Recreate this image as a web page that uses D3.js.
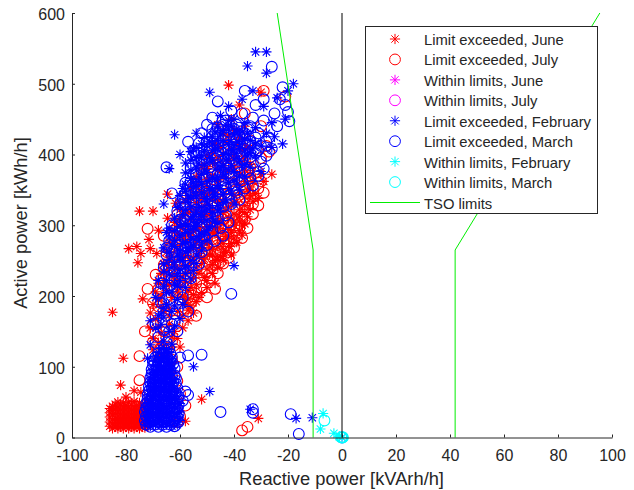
<!DOCTYPE html>
<html><head><meta charset="utf-8">
<script src="https://cdnjs.cloudflare.com/ajax/libs/d3/7.8.5/d3.min.js"></script>
<style>html,body{margin:0;background:#fff}svg{display:block}text{font-family:"Liberation Sans",Arial,sans-serif;fill:#262626}</style>
</head><body><svg id="c" width="634" height="490"></svg>
<script>
const xTicks=[-100,-80,-60,-40,-20,0,20,40,60,80,100];
const yTicks=[0,100,200,300,400,500,600];
const legendLabels=["Limit exceeded, June","Limit exceeded, July","Within limits, June","Within limits, July","Limit exceeded, February","Limit exceeded, March","Within limits, February","Within limits, March","TSO limits"];
const tsoLeft=[[-24,600],[-10.7,265],[-10.7,0]];
const tsoRight=[[41.9,0],[41.9,265],[95.5,600]];
const zeroLine=[[0,0],[0,600]];
const juneLow=[[-86,16],[-86,22],[-86,29],[-86,35],[-86,41],[-85,13],[-85,19],[-85,25],[-85,32],[-85,38],[-85,44],[-84,15],[-84,21],[-84,27],[-84,34],[-84,40],[-84,47],[-83,13],[-83,18],[-83,24],[-83,30],[-83,36],[-83,43],[-83,50],[-82,15],[-82,21],[-82,27],[-82,33],[-82,39],[-82,46],[-81,13],[-81,18],[-81,24],[-81,30],[-81,36],[-81,42],[-81,49],[-80,15],[-80,21],[-80,27],[-80,33],[-80,39],[-80,45],[-79,13],[-79,18],[-79,24],[-79,30],[-79,36],[-79,43],[-79,50],[-78,15],[-78,21],[-78,27],[-78,33],[-78,39],[-78,46],[-77,13],[-77,18],[-77,24],[-77,30],[-77,36],[-77,42],[-77,51],[-76,15],[-76,21],[-76,27],[-76,33],[-76,39],[-76,45],[-75,13],[-75,18],[-75,24],[-75,30],[-75,36],[-75,42],[-75,49],[-74,15],[-74,21],[-74,27],[-74,33],[-74,39],[-74,46],[-73,14],[-73,20],[-73,26],[-73,32],[-73,38],[-73,44],[-72,52],[-72,16],
[-82,74],[-77,66],[-74.5,64],[-80,57],[-58,23],[-52,54],[-31,27],[-81,112],[-68,113],[-68,134]];
const juneBody=[[-85,177],[-75,320],[-70,320],[-64.6,344],[-61.6,331],[-64.6,310],[-68,293],[-71.5,280],[-79,267],[-76,270],[-74.5,260],[-71,267],[-68.6,260],[-75.6,247],[-73.8,196],[-71,176],[-68,196],[-26,372],[-29,362],[-42,498],[-30,488],[-38,470],[-36,440],
[-71,155],[-69,168],[-67,148],[-66,178],[-64,160],[-62,150],[-70,140],[-66,130],[-63,142],
[-70,188],[-67,185],[-64,182],[-61,178],[-59,172],[-57,180],
[-69,206],[-67,200],[-65,208],[-63,198],[-61,206],[-59,200],[-57,196],[-55,202],
[-68,218],[-66,222],[-64,216],[-62,224],[-60,214],[-58,220],[-56,212],[-54,216],
[-67,232],[-65,236],[-63,230],[-61,238],[-59,228],[-57,234],[-55,226],[-53,232],[-51,226],
[-66,246],[-64,250],[-62,244],[-60,252],[-58,242],[-56,248],[-54,240],[-52,246],[-50,238],[-48,244],
[-65,262],[-63,256],[-61,266],[-59,258],[-57,264],[-55,254],[-53,260],[-51,252],[-49,258],[-47,250],[-45,256],
[-64,276],[-62,280],[-60,272],[-58,278],[-56,270],[-54,276],[-52,268],[-50,274],[-48,266],[-46,270],[-44,262],
[-63,292],[-61,288],[-59,296],[-57,286],[-55,292],[-53,284],[-51,290],[-49,282],[-47,288],[-45,278],[-43,284],[-41,274],
[-62,304],[-60,310],[-58,302],[-56,308],[-54,300],[-52,306],[-50,298],[-48,304],[-46,296],[-44,302],[-42,294],[-40,300],
[-60,322],[-58,316],[-56,324],[-54,318],[-52,326],[-50,314],[-48,322],[-46,312],[-44,318],[-42,310],[-40,316],[-38,306],
[-58,336],[-56,340],[-54,332],[-52,338],[-50,330],[-48,336],[-46,328],[-44,334],[-42,326],[-40,332],[-38,322],[-36,328],
[-56,352],[-54,356],[-52,348],[-50,354],[-48,346],[-46,352],[-44,344],[-42,350],[-40,342],[-38,346],[-36,340],
[-54,368],[-52,372],[-50,364],[-48,370],[-46,362],[-44,368],[-42,360],[-40,364],[-38,358],[-36,362],[-34,354],
[-52,384],[-50,380],[-48,388],[-46,378],[-44,384],[-42,376],[-40,382],[-38,374],[-36,378],[-34,370],
[-50,398],[-48,402],[-46,394],[-44,400],[-42,392],[-40,398],[-38,390],[-36,394],[-34,386],
[-47,415],[-45,410],[-43,418],[-41,408],[-39,414],[-37,406],[-35,410],
[-44,430],[-42,426],[-40,434],[-38,424],[-46,442],[-41,450]];
const juneRight=[[-52,205],[-54,192],[-56,186],[-50,222],[-48,232],[-46,240],[-47,218],[-44,250],[-43,262],[-42,270],[-41,258],[-40,282],[-39,276],[-38,292],[-37,286],[-36,302],[-35,312],[-34,322],[-33,334],[-32,345],[-31,338],[-33,362],[-30,372],[-49,268],[-46,252],[-44,274],[-42,284],[-38,312],[-36,318],[-34,342],[-53,198],[-50,212],[-55,176],[-57,165],[-59,155],[-61,140],[-60,128],[-63,128],[-66,118],[-70,124],[-68,156],[-64,172],[-58,190],[-48,258],[-52,254],[-44,290],[-40,306],[-35,350],[-57,208],[-61,222],[-65,244],[-58,256],[-55,268],[-47,296],[-43,320],[-39,334],[-46,336],[-50,344],[-54,344],[-52,312],[-48,290],[-51,278],[-53,296],[-56,290],[-59,282],[-61,300],[-57,318],[-49,316],[-45,306],[-41,290],[-37,300]];
const julyCircles=[[-75,115],[-75,81],[-37,10],[-35,15],[-72,295],[-72,210],[-68,185],[-70,160],[-73,150],[-70,135],[-66,120],[-64,142],[-62,165],[-60,195],[-57,198],[-56,203],[-64,222],[-60,235],[-57,226],[-54,218],[-62,255],[-58,250],[-54,240],[-50,235],[-60,278],[-56,272],[-52,262],[-48,255],[-45,248],[-63,292],[-58,296],[-54,288],[-50,280],[-46,272],[-42,262],[-61,315],[-56,312],[-52,304],[-48,296],[-44,288],[-40,278],[-59,338],[-54,330],[-50,322],[-46,314],[-42,306],[-38,296],[-36,308],[-55,355],[-51,348],[-47,340],[-43,332],[-39,322],[-36,330],[-52,372],[-48,365],[-44,358],[-40,348],[-36,340],[-33,352],[-49,390],[-45,382],[-41,374],[-37,364],[-34,370],[-30,362],[-46,405],[-42,398],[-38,390],[-34,382],[-30,395],[-44,420],[-40,414],[-36,405],[-42,435],[-38,428],[-34,420],[-28,412],[-30,440],[-21,482],[-36,458],[-29,490],[-27,404],[-66,285],[-65,262],[-67,224],[-68,210],[-61,245],[-59,205],[-66,150],[-63,110],[-61,100],[-64,90],[-61,80],[-60,62],[-58,45],[-60,30],[-61,22],[-49,252],[-46,290],[-33,330],[-31,375],
[-70,190],[-65,198],[-63,212],[-69,230],[-66,244],[-64,268],[-55,262],[-53,250],[-47,262],[-43,272],[-39,285],[-37,312],[-35,345],[-41,338],[-44,308],[-48,280],[-51,270],[-38,360],
[-50,198],[-52,210],[-49,225],[-46,232],[-44,246],[-42,254],[-40,268],[-37,282],[-35,296],[-33,316],[-31,328],[-29,346],[-31,352],[-47,210],[-45,262],[-56,190],[-58,182],[-54,172],[-47,244],[-38,302],[-41,300],[-34,338]];
const withinJune=[[0,0]];
const withinJuly=[[0,0]];
const febLow=[[-73,18],[-71,16],[-69,18],[-67,16],[-65,18],[-63,16],[-61,18],[-72,24],[-70,22],[-68,24],[-66,22],[-64,24],[-62,22],[-60,24],[-73,30],[-71,28],[-69,30],[-67,28],[-65,30],[-63,28],[-61,30],[-72,36],[-70,34],[-68,36],[-66,34],[-64,36],[-62,34],[-60,36],[-73,42],[-71,40],[-69,42],[-67,40],[-65,42],[-63,40],[-61,42],[-72,48],[-70,46],[-68,48],[-66,46],[-64,48],[-62,46],[-60,48],[-72,54],[-71,52],[-69,54],[-67,52],[-65,54],[-63,52],[-61,54],[-72,60],[-70,58],[-68,60],[-66,58],[-64,60],[-62,58],[-71,66],[-69,64],[-67,66],[-65,64],[-63,66],[-61,64],[-71,72],[-70,70],[-68,72],[-66,70],[-64,72],[-62,70],[-71,78],[-69,76],[-67,78],[-65,76],[-63,78],[-62,82],[-71,84],[-70,82],[-68,84],[-66,82],[-64,84],[-70,90],[-69,88],[-67,90],[-65,88],[-63,90],[-70,96],[-68,94],[-66,96],[-64,94],[-63,98],[-69,102],[-67,100],[-65,102],[-63,104],[-69,108],[-68,106],[-66,108],[-64,106],[-69,114],[-67,112],[-65,114],[-63,112],[-68,120],[-66,118],[-64,120],[-67,126],[-65,124],[-66,136],[-63,132],[-49,65],[-55,100],[-71,131],[-72,112]];
const febBody=[[-69,155],[-71,165],[-67,160],[-66,183],[-63,178],[-61,195],[-69,198],[-65,205],[-60,168],[-64,150],[-66,170],[-62,186],
[-68,222],[-66,214],[-64,230],[-62,218],[-60,222],[-58,212],[-66,235],[-63,240],[-60,238],[-58,232],[-56,224],
[-66,245],[-64,252],[-62,248],[-60,254],[-58,243],[-56,250],[-54,246],
[-66,268],[-64,262],[-62,270],[-60,264],[-58,262],[-56,268],[-54,258],[-52,264],
[-64,282],[-62,278],[-60,285],[-58,276],[-56,280],[-54,284],[-52,272],[-50,278],
[-64,296],[-62,292],[-60,298],[-58,290],[-56,294],[-54,298],[-52,288],[-50,292],[-46,303],
[-62,310],[-60,306],[-58,302],[-56,310],[-54,304],[-52,312],[-50,306],[-48,310],
[-60,330],[-58,322],[-56,326],[-54,320],[-52,316],[-50,324],[-48,318],[-46,320],[-66,330],
[-60,342],[-58,348],[-56,338],[-54,340],[-52,346],[-50,334],[-48,340],[-46,328],[-44,332],
[-58,358],[-56,366],[-54,354],[-52,358],[-50,362],[-48,350],[-46,356],[-44,344],[-42,352],[-40,330],
[-58,374],[-56,378],[-54,382],[-52,372],[-50,375],[-48,368],[-46,368],[-44,372],[-42,360],[-40,364],[-38,350],
[-58,388],[-56,392],[-54,396],[-52,398],[-50,388],[-48,392],[-46,384],[-44,384],[-42,378],[-40,376],[-38,370],[-36,368],
[-56,404],[-54,410],[-52,415],[-50,412],[-48,406],[-46,408],[-44,400],[-42,400],[-40,394],[-38,392],[-36,386],[-34,382],[-30,376],
[-54,430],[-51,424],[-48,425],[-46,420],[-44,420],[-42,414],[-40,412],[-38,408],[-36,405],[-34,402],[-32,398],
[-46,440],[-44,434],[-42,435],[-40,428],[-38,428],[-36,422],[-34,420],[-32,416],[-30,412],[-26,410],
[-45,455],[-42,448],[-40,450],[-36,445],[-32,438],[-28,430],[-25,425],
[-62,428],[-55,408],[-49,488],[-42,468],[-37,478],[-33,490],[-29,468],[-26,445],[-21,450],[-24,480],[-18,500],[-28,515],[-20,490],[-32,545],[-28,545],[-35,525],[-40,243],[-64,380],[-22,415],[-60,400],
[-17,27],[-11,28],[-34,40]];
const febFill=[[-57,300],[-55,312],[-53,325],[-51,338],[-49,352],[-47,364],[-45,378],[-43,392],[-41,406],[-39,418],[-37,432],[-59,315],[-57,332],[-55,346],[-53,362],[-51,378],[-49,396],[-47,412],[-45,428],[-43,442],[-61,325],[-59,352],[-57,342],[-55,360],[-53,388],[-51,405],[-49,418],[-47,432],[-41,440],[-39,436],[-55,298],[-53,308],[-51,320],[-49,328],[-47,344],[-45,352],[-43,366],[-41,384],[-39,402],[-37,416],[-35,398],[-33,408],[-35,430],[-37,384],[-39,358],[-41,344],[-43,336],[-45,324],[-47,306],[-49,298],[-51,286],[-53,278],[-55,272],[-57,268],[-59,274],[-61,258],[-63,272],[-65,290],[-59,250],[-57,240],[-55,236],[-61,232],[-63,206],[-61,214],[-65,222],[-59,188],[-65,188],[-67,175],[-62,158],[-68,172]];
const marchLow=[[-72.5,18],[-71,15],[-69.5,18],[-68,15],[-66.5,18],[-65,15],[-63.5,18],[-62,16],[-60.5,22],[-73,24],[-71.5,22],[-70,24],[-68.5,22],[-67,24],[-65.5,22],[-64,24],[-62.5,23],[-61,28],[-72.5,30],[-71,28],[-69.5,30],[-68,28],[-66.5,30],[-65,28],[-63.5,30],[-62,30],[-60.5,34],[-73,36],[-71.5,34],[-70,36],[-68.5,34],[-67,36],[-65.5,34],[-64,36],[-62.5,36],[-61,40],[-72.5,42],[-71,40],[-69.5,42],[-68,40],[-66.5,42],[-65,40],[-63.5,42],[-62,42],[-60.5,46],[-72.5,48],[-71.5,46],[-70,48],[-68.5,46],[-67,48],[-65.5,46],[-64,48],[-62.5,48],[-61,52],[-72,54],[-71,52],[-69.5,54],[-68,52],[-66.5,54],[-65,52],[-63.5,54],[-62,54],[-60.5,58],[-72,60],[-70.5,58],[-69,60],[-67.5,58],[-66,60],[-64.5,58],[-63,60],[-61.5,62],[-71.5,66],[-70,64],[-68.5,66],[-67,64],[-65.5,66],[-64,64],[-62.5,66],[-61,70],[-71.5,72],[-70.5,70],[-69,72],[-67.5,70],[-66,72],[-64.5,70],[-63,72],[-61.5,76],[-71,78],[-70,76],[-68.5,78],[-67,76],[-65.5,78],[-64,76],[-62.5,78],[-61.5,84],[-71,84],[-69.5,82],[-68,84],[-66.5,82],[-65,84],[-63.5,82],[-62,88],[-70.5,90],[-69,88],[-67.5,90],[-66,88],[-64.5,90],[-63,88],[-70.5,96],[-69.5,94],[-68,96],[-66.5,94],[-65,96],[-63.5,94],[-62,98],[-70,102],[-68.5,100],[-67,102],[-65.5,100],[-64,102],[-62.5,104],[-69.5,108],[-68,106],[-66.5,108],[-65,106],[-63.5,108],[-69,114],[-67.5,112],[-66,114],[-64.5,112],[-63,114],[-68,120],[-66.5,118],[-65,120],[-63.5,118],[-66,126],[-64,126],[-65,134],[-69,160],[-57,116],[-52,117],[-60,113],[-57,60],[-59,52],[-45,36],[-33,40],[-33,35],[-58,65]];
const marchBody=[[-70,108],[-68,142],[-66,152],[-64,150],[-62,175],[-66,190],[-64,196],[-61,205],[-59,198],[-68,205],[-67,218],[-64,215],[-60,220],[-66,240],[-62,235],[-58,232],[-56,225],[-41,203],[-65,258],[-61,255],[-57,250],[-53,245],[-64,278],[-60,272],[-56,268],[-52,262],[-63,300],[-59,295],[-55,288],[-51,284],[-47,278],[-61,320],[-57,315],[-53,308],[-49,302],[-45,296],[-59,340],[-55,334],[-51,326],[-47,320],[-43,314],[-63,345],[-57,356],[-53,350],[-49,344],[-45,336],[-41,330],[-65,382],[-55,372],[-51,366],[-47,360],[-43,352],[-39,346],[-53,388],[-49,382],[-45,376],[-41,368],[-37,362],[-33,356],[-55,405],[-51,400],[-47,394],[-43,388],[-39,382],[-35,376],[-31,370],[-57,418],[-53,416],[-49,410],[-45,404],[-41,398],[-37,392],[-33,388],[-29,380],[-52,430],[-48,426],[-44,420],[-40,414],[-36,408],[-32,402],[-28,398],[-50,442],[-46,438],[-42,432],[-38,426],[-34,418],[-30,412],[-26,408],[-48,452],[-43,448],[-39,442],[-35,436],[-31,430],[-27,424],[-24,440],[-46,475],[-41,462],[-37,458],[-33,452],[-29,448],[-25,458],[-21,470],[-20,460],[-19.5,447],[-26,524],[-23,478],[-29,478],[-32,470],[-22,495],[-36,490],[-16,5],[-19,33],
[-65,268],[-63,262],[-59,262],[-55,258],[-62,285],[-58,282],[-54,276],[-50,272],[-60,308],[-56,302],[-52,296],[-48,292],[-44,285],[-58,328],[-54,322],[-50,316],[-46,310],[-42,304],[-56,346],[-52,340],[-48,332],[-44,326],[-54,362],[-50,356],[-46,348],[-42,342],[-38,336],[-56,380],[-52,378],[-48,372],[-44,364],[-40,356],[-36,352],[-54,398],[-50,392],[-46,386],[-42,380],[-38,374],[-34,366],[-50,418],[-46,412],[-42,408],[-38,402],[-34,396],[-30,390],[-47,430],[-43,424],[-39,420],[-35,414],[-31,406],[-44,442],[-40,436],[-36,430],[-32,424],[-28,418],[-54,355],[-60,330],[-58,360],
[-56,320],[-54,310],[-52,334],[-50,348],[-48,360],[-46,372],[-44,394],[-42,414],[-40,424],[-38,438],[-36,416],[-34,440],[-58,345],[-56,362],[-54,372],[-52,392],[-50,408],[-48,436],[-46,396],[-44,410],[-42,374],[-40,392],[-60,290],[-58,306],[-56,296],[-54,286],[-52,320],[-50,300],[-48,342],[-46,330],[-44,354],[-62,262],[-60,244],[-58,270],[-64,240],[-62,222],[-60,190],[-57,178],[-63,160],[-65,172],[-67,190],[-61,150]];
const withinFeb=[[-7,34],[-8,12],[-3,6],[-1,2],[0,0],[-1,1]];
const withinMarch=[[-6.5,24],[0,0],[0.3,0.5],[-0.3,0.2],[0.2,-0.2]];

const x=d3.scaleLinear().domain([-100,100]).range([72,612]);
const y=d3.scaleLinear().domain([0,600]).range([437.5,13]);
const svg=d3.select("#c");
const red="#ff0000",blue="#0000ff",mag="#ff00ff",cy="#00ffff",grn="#00ee00";
const starType={draw(ctx,size){const r=Math.sqrt(size),d=r*0.72;
 ctx.moveTo(-r,0);ctx.lineTo(r,0);ctx.moveTo(0,-r);ctx.lineTo(0,r);
 ctx.moveTo(-d,-d);ctx.lineTo(d,d);ctx.moveTo(-d,d);ctx.lineTo(d,-d);}};
const star=d3.symbol().type(starType).size(26);
const circ=d3.symbol().type(d3.symbolCircle).size(Math.PI*5.4*5.4);
const plot=svg.append("g");
function pts(data,sym,col){plot.append("g").selectAll("path").data(data).join("path")
 .attr("d",sym).attr("transform",d=>`translate(${x(d[0])},${y(d[1])})`)
 .attr("fill","none").attr("stroke",col).attr("stroke-width",1.1);}
const ln=d3.line().x(d=>x(d[0])).y(d=>y(d[1]));
pts(juneLow,star,red);pts(juneBody,star,red);pts(juneRight,star,red);pts(julyCircles,circ,red);
pts(withinJune,star,mag);pts(withinJuly,circ,mag);
pts(febLow,star,blue);pts(febBody,star,blue);pts(febFill,star,blue);pts(marchLow,circ,blue);pts(marchBody,circ,blue);
pts(withinFeb,star,cy);pts(withinMarch,circ,cy);
[tsoLeft,tsoRight].forEach(l=>plot.append("path").attr("d",ln(l)).attr("fill","none").attr("stroke",grn).attr("stroke-width",1));
plot.append("path").attr("d",ln(zeroLine)).attr("stroke","#000").attr("fill","none");

const ax=svg.append("g").attr("transform","translate(0,437.5)").call(d3.axisBottom(x).tickValues(xTicks).tickFormat(String).tickSizeInner(-3).tickSizeOuter(0).tickPadding(12));
const ay=svg.append("g").attr("transform","translate(72,0)").call(d3.axisLeft(y).tickValues(yTicks).tickFormat(String).tickSizeInner(-3).tickSizeOuter(0).tickPadding(7));
[ax,ay].forEach(a=>{a.selectAll("path,line").attr("stroke","#262626");a.selectAll("text").attr("font-size",16).attr("font-family","Liberation Sans").attr("fill","#262626");});
ay.selectAll("text").attr("dy","0.4em");
svg.append("text").attr("x",341.5).attr("y",485).attr("text-anchor","middle").attr("font-size",18.3).text("Reactive power [kVArh/h]");
svg.append("text").attr("transform","translate(27,223) rotate(-90)").attr("text-anchor","middle").attr("font-size",18.3).text("Active power [kWh/h]");

const lg=svg.append("g");
lg.append("rect").attr("x",365.5).attr("y",26.5).attr("width",232).attr("height",187).attr("fill","#fff").attr("stroke","#262626").attr("stroke-width",1);
const rowY=d3.scaleLinear().domain([0,8]).range([39,202.5]);
const legSyms=[[star,red],[circ,red],[star,mag],[circ,mag],[star,blue],[circ,blue],[star,cy],[circ,cy]];
legendLabels.forEach((t,i)=>{
 lg.append("text").attr("x",424).attr("y",rowY(i)+6).attr("font-size",14.8).text(t);
 if(i<8)lg.append("path").attr("d",legSyms[i][0]).attr("transform",`translate(395,${rowY(i)})`).attr("fill","none").attr("stroke",legSyms[i][1]);
 else lg.append("line").attr("x1",370).attr("x2",420).attr("y1",rowY(i)).attr("y2",rowY(i)).attr("stroke",grn);
});
</script></body></html>
